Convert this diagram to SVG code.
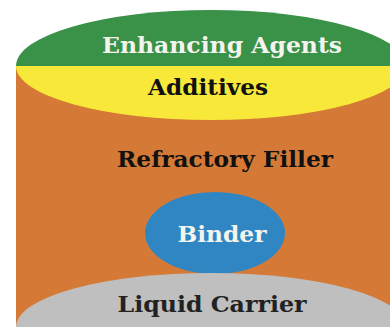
<svg xmlns="http://www.w3.org/2000/svg" width="390" height="327" viewBox="0 0 390 327">
  <style>
    .lbl { font-family: "DejaVu Serif", "Liberation Serif", serif; font-weight: bold; font-size: 23px; text-anchor: middle; }
    .light { fill: #f4f4ee; }
    .dark { fill: #111111; }
  </style>
  <rect width="390" height="327" fill="#ffffff"/>

  <!-- body of the cylinder -->
  <g id="refractory-filler">
    <rect x="16" y="65" width="400" height="262" fill="#d57a36"/>
    <text class="lbl dark" x="225" y="167" textLength="216" lengthAdjust="spacingAndGlyphs">Refractory Filler</text>
  </g>

  <!-- top cap: upper half -->
  <g id="enhancing-agents">
    <path d="M16,66 A195,56 0 0 1 406,66 Z" fill="#3a9148"/>
    <text class="lbl light" x="222" y="53" textLength="240" lengthAdjust="spacingAndGlyphs">Enhancing Agents</text>
  </g>

  <!-- top cap: lower half -->
  <g id="additives">
    <path d="M16,66 A195,54 0 0 0 406,66 Z" fill="#f8e83a"/>
    <text class="lbl dark" x="208" y="95" textLength="120" lengthAdjust="spacingAndGlyphs">Additives</text>
  </g>

  <g id="binder">
    <ellipse cx="215" cy="233" rx="70" ry="41" fill="#2f86c3"/>
    <text class="lbl light" x="222" y="242" textLength="89" lengthAdjust="spacingAndGlyphs">Binder</text>
  </g>

  <!-- base of the cylinder -->
  <g id="liquid-carrier">
    <ellipse cx="211" cy="327" rx="195" ry="54" fill="#bfbfbf"/>
    <text class="lbl" x="212" y="312" fill="#222222" textLength="189" lengthAdjust="spacingAndGlyphs">Liquid Carrier</text>
  </g>

  <g id="connectors"/>
</svg>
